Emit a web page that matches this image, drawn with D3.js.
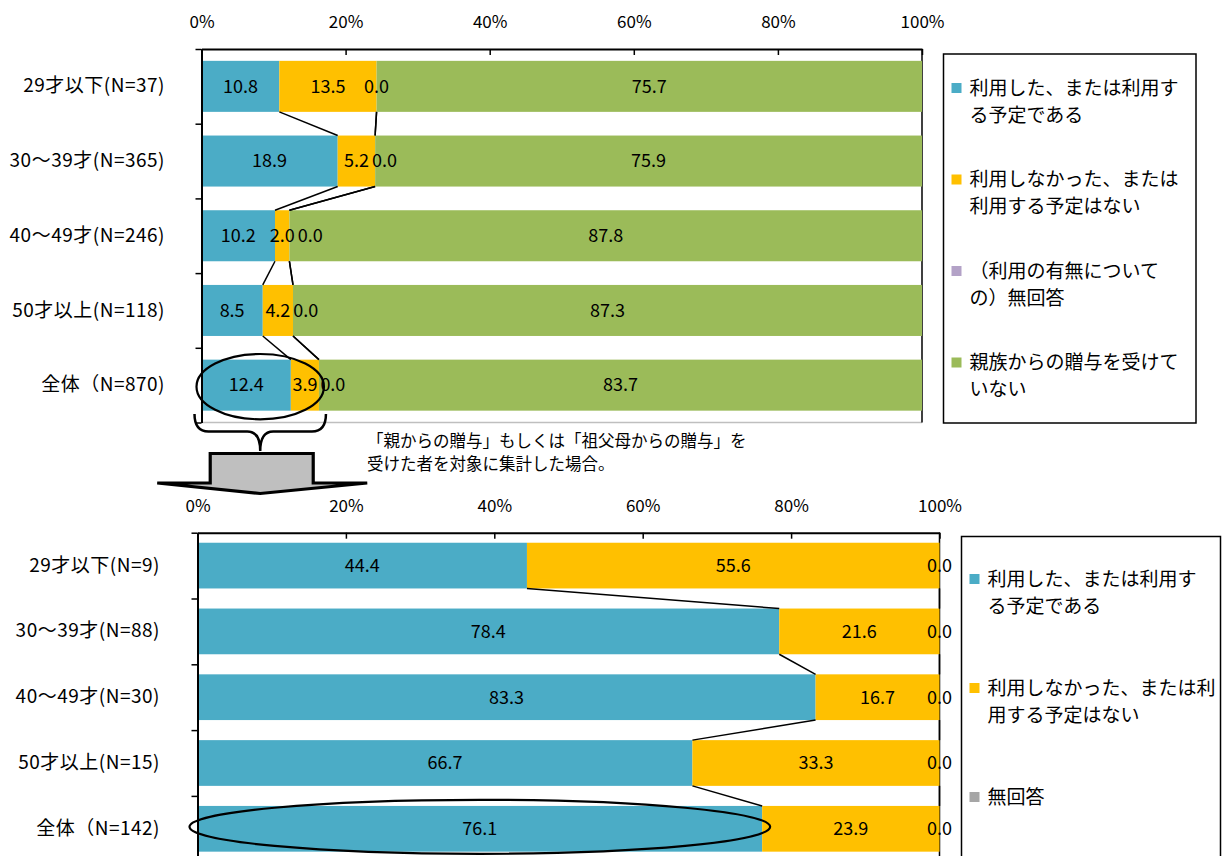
<!DOCTYPE html>
<html>
<head>
<meta charset="utf-8">
<script src="https://cdn.jsdelivr.net/npm/d3@7"></script>
<style>
  html, body { margin: 0; padding: 0; background: #fff; }
  svg { display: block; }
  text { font-family: "Noto Sans CJK JP", "Liberation Sans", sans-serif; fill: #000; }
</style>
</head>
<body>
<svg id="chart" width="1222" height="856"></svg>
<script>
// ---- all respondents, by age group ----
const ageGroupsAll = ["29才以下(N=37)", "30～39才(N=365)", "40～49才(N=246)", "50才以上(N=118)", "全体（N=870)"];
const usedAll      = [10.8, 18.9, 10.2, 8.5, 12.4];
const notUsedAll   = [13.5, 5.2, 2.0, 4.2, 3.9];
const noAnswerAll  = [0.0, 0.0, 0.0, 0.0, 0.0];
const noGiftAll    = [75.7, 75.9, 87.8, 87.3, 83.7];

// ---- respondents who received a gift from parents or grandparents ----
const ageGroupsGift = ["29才以下(N=9)", "30～39才(N=88)", "40～49才(N=30)", "50才以上(N=15)", "全体（N=142)"];
const usedGift      = [44.4, 78.4, 83.3, 66.7, 76.1];
const notUsedGift   = [55.6, 21.6, 16.7, 33.3, 23.9];
const noAnswerGift  = [0.0, 0.0, 0.0, 0.0, 0.0];

const percentTicks = [0, 20, 40, 60, 80, 100];

const legendAll = [
  ["利用した、または利用す", "る予定である"],
  ["利用しなかった、または", "利用する予定はない"],
  ["（利用の有無について", "の）無回答"],
  ["親族からの贈与を受けて", "いない"]
];
const legendGift = [
  ["利用した、または利用す", "る予定である"],
  ["利用しなかった、または利", "用する予定はない"],
  ["無回答"]
];
const noteLines = ["「親からの贈与」もしくは「祖父母からの贈与」を", "受けた者を対象に集計した場合。"];

const svg = d3.select("#chart");

function drawPanel(o) {
  const n = o.categories.length;
  const keys = o.series.map((_, k) => "s" + k);
  const rows = o.categories.map((c, i) => {
    const r = { cat: c };
    o.series.forEach((s, k) => { r["s" + k] = s[i]; });
    return r;
  });
  const stacked = d3.stack().keys(keys)(rows);

  const x = d3.scaleLinear().domain([0, 100]).range([o.x0, o.x1]);
  const yBottom = o.yTop + o.step * n;
  const y = d3.scaleBand().domain(o.categories).range([o.yTop, yBottom])
    .paddingInner(o.pad).paddingOuter(o.pad / 2);
  const bw = y.bandwidth();
  const g = svg.append("g");

  // bottom / right edges of the plot area
  g.append("line").attr("x1", o.x0).attr("x2", o.x1).attr("y1", yBottom).attr("y2", yBottom)
    .attr("stroke", "#bfbfbf").attr("stroke-width", 1.5);
  g.append("line").attr("x1", o.x1).attr("x2", o.x1).attr("y1", o.yTop).attr("y2", yBottom)
    .attr("stroke", "#000").attr("stroke-width", 1.5);

  // stacked bars
  g.selectAll("g.series").data(stacked).join("g").attr("class", "series")
    .attr("fill", (d, k) => o.colors[k])
    .selectAll("rect").data(d => d).join("rect")
    .attr("x", d => x(d[0]))
    .attr("y", d => y(d.data.cat))
    .attr("width", d => x(d[1]) - x(d[0]))
    .attr("height", bw);

  // series lines joining segment boundaries of adjacent bars
  stacked.slice(0, -1).forEach(layer => {
    for (let i = 0; i < n - 1; i++) {
      g.append("line")
        .attr("x1", x(layer[i][1])).attr("y1", y(o.categories[i]) + bw)
        .attr("x2", x(layer[i + 1][1])).attr("y2", y(o.categories[i + 1]))
        .attr("stroke", "#000").attr("stroke-width", 1.5);
    }
  });

  // value labels, zero-width segments nudged past their neighbour
  for (let i = 0; i < n; i++) {
    let prevRight = -Infinity;
    stacked.forEach((layer, k) => {
      const d = layer[i];
      const v = o.series[k][i];
      const t = g.append("text")
        .attr("x", x((d[0] + d[1]) / 2))
        .attr("y", y(o.categories[i]) + bw / 2)
        .attr("dy", "0.35em")
        .attr("text-anchor", "middle")
        .style("font-size", "18px")
        .text(v.toFixed(1));
      const w = t.node().getComputedTextLength();
      let left = x((d[0] + d[1]) / 2) - w / 2;
      if (v === 0 && left < prevRight + 3) {
        left = prevRight + 3;
        t.attr("x", left + w / 2);
      }
      prevRight = left + w;
    });
  }

  // value axis along the top
  const xAxis = g.append("g").attr("transform", `translate(0,${o.yTop})`)
    .call(d3.axisTop(x).tickValues(percentTicks).tickFormat(d => d + "%")
      .tickSizeInner(-6).tickSizeOuter(0).tickPadding(o.tickPad));
  xAxis.select(".domain").attr("stroke", "#000").attr("stroke-width", 2);
  xAxis.selectAll(".tick line").attr("stroke", "#000").attr("stroke-width", 1.5);
  xAxis.selectAll(".tick text").style("font-size", "17px").attr("fill", "#000");

  // category axis on the left, ticks between categories
  const yEdges = d3.scaleLinear().domain([0, n]).range([o.yTop, yBottom]);
  const yAxis = g.append("g").attr("transform", `translate(${o.x0},0)`)
    .call(d3.axisLeft(yEdges).tickValues(d3.range(n + 1)).tickFormat("")
      .tickSizeInner(6).tickSizeOuter(0));
  yAxis.select(".domain").attr("stroke", "#000").attr("stroke-width", 2);
  yAxis.selectAll(".tick line").attr("stroke", "#000").attr("stroke-width", 1.5);

  const yLabels = g.append("g").attr("transform", `translate(${o.x0},0)`)
    .call(d3.axisLeft(y).tickSize(0).tickPadding(o.x0 - o.labelRight));
  yLabels.select(".domain").remove();
  yLabels.selectAll(".tick text").style("font-size", "19px")
    .style("letter-spacing", "0.5px").attr("fill", "#000");

  // legend
  const lg = svg.append("g");
  lg.append("rect").attr("x", o.legend.x).attr("y", o.legend.y)
    .attr("width", o.legend.w).attr("height", o.legend.h)
    .attr("fill", "#fff").attr("stroke", "#000").attr("stroke-width", 1.5);
  o.legendLabels.forEach((lines, k) => {
    const cy = o.legend.firstY + k * o.legend.gap;
    lg.append("rect").attr("x", o.legend.x + 8).attr("y", cy - 5)
      .attr("width", 10).attr("height", 10).attr("fill", o.colors[k]);
    lines.forEach((line, j) => {
      lg.append("text").attr("x", o.legend.x + 26).attr("y", cy + j * 27)
        .attr("dy", "0.35em").style("font-size", "19px").text(line);
    });
  });

  // ellipse around the overall row
  const hi = o.highlight;
  const last = o.categories[n - 1];
  const end = d3.sum(hi.layers, k => o.series[k][n - 1]);
  const ell = {
    cx: x(end / 2),
    cy: y(last) + bw / 2 + hi.dy,
    rx: (x(end) - x(0)) / 2 + hi.padX,
    ry: bw * hi.ryFrac
  };
  svg.append("ellipse").attr("cx", ell.cx).attr("cy", ell.cy)
    .attr("rx", ell.rx).attr("ry", ell.ry)
    .attr("fill", "none").attr("stroke", "#000").attr("stroke-width", 2.2);
  return { x, y, ell, yBottom };
}

const colorsAll  = ["#4bacc6", "#ffc000", "#b3a2c7", "#9bbb59"];
const colorsGift = ["#4bacc6", "#ffc000", "#a6a6a6"];

const panelAll = drawPanel({
  categories: ageGroupsAll,
  series: [usedAll, notUsedAll, noAnswerAll, noGiftAll],
  colors: colorsAll,
  x0: 201.5, x1: 922, yTop: 49, step: 74.7, pad: 0.317, tickPad: 21,
  labelRight: 165,
  legendLabels: legendAll,
  legend: { x: 943.5, y: 54, w: 252.5, h: 369, firstY: 88, gap: 91.5 },
  highlight: { layers: [0, 1], padX: 5, ryFrac: 0.64, dy: 1.5 }
});

const panelGift = drawPanel({
  categories: ageGroupsGift,
  series: [usedGift, notUsedGift, noAnswerGift],
  colors: colorsGift,
  x0: 197.5, x1: 939.5, yTop: 532.7, step: 65.8, pad: 0.305, tickPad: 21,
  labelRight: 160,
  legendLabels: legendGift,
  legend: { x: 961.5, y: 536.5, w: 259, h: 340, firstY: 579, gap: 109 },
  highlight: { layers: [0], padX: 8, ryFrac: 0.59, dy: -2 }
});

// brace under the highlighted overall row, and the arrow pointing to the lower panel
const e = panelAll.ell;
const bl = e.cx - e.rx - 2, br = e.cx + e.rx + 2, bm = e.cx;
const by0 = 414, by1 = 431.5, by2 = 451;
const brace = d3.path();
brace.moveTo(bl, by0);
brace.quadraticCurveTo(bl, by1, bl + 14, by1);
brace.lineTo(bm - 13, by1);
brace.quadraticCurveTo(bm, by1, bm, by2);
brace.quadraticCurveTo(bm, by1, bm + 13, by1);
brace.lineTo(br - 14, by1);
brace.quadraticCurveTo(br, by1, br, by0);
svg.append("path").attr("d", brace.toString())
  .attr("fill", "none").attr("stroke", "#000").attr("stroke-width", 2.5);

const arrowPts = [
  [bm - 50, 453.5], [bm + 53, 453.5], [bm + 53, 483], [bm + 107, 483],
  [bm, 493.5], [bm - 103, 483], [bm - 50, 483]
];
svg.append("path").attr("d", d3.line()(arrowPts) + "Z")
  .attr("fill", "#bfbfbf").attr("stroke", "#000").attr("stroke-width", 3.2)
  .attr("stroke-linejoin", "miter");

const note = svg.append("g");
noteLines.forEach((line, j) => {
  note.append("text").attr("x", 367).attr("y", 441 + j * 23)
    .attr("dy", "0.35em").style("font-size", "16.5px").text(line);
});
</script>
</body>
</html>
